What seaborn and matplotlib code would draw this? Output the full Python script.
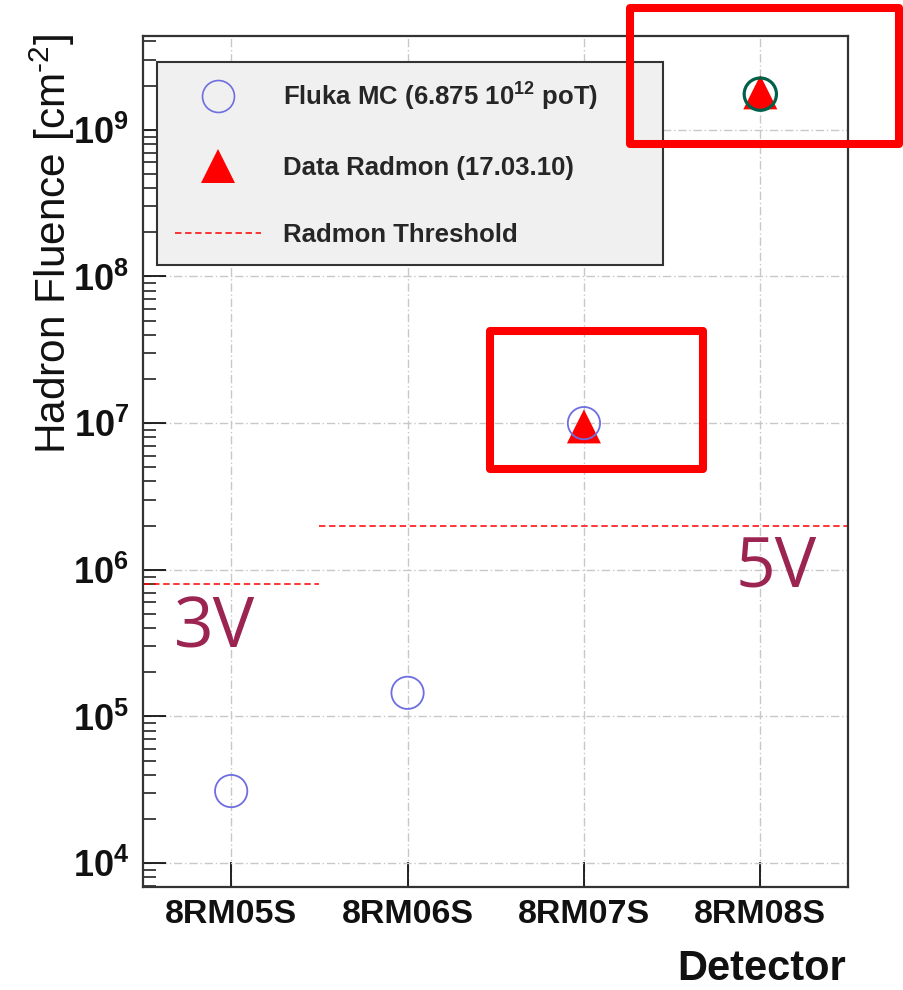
import numpy as np
import pandas as pd
import matplotlib
matplotlib.use('Agg')
import matplotlib.pyplot as plt
import seaborn as sns
from matplotlib.lines import Line2D
from matplotlib.patches import Rectangle
from matplotlib.ticker import LogLocator, FixedLocator, NullFormatter

# ---------------- data ----------------
detectors = ['8RM05S', '8RM06S', '8RM07S', '8RM08S']
fluka_mc = [3.1e4, 1.45e5, 1.0e7, 1.75e9]
radmon_data = [np.nan, np.nan, 9.5e6, 1.8e9]
threshold = [8e5, 2e6, 2e6, 2e6]
threshold_labels = ['3V', '5V']
y_decades = [4, 5, 6, 7, 8, 9]
legend_labels = ['Fluka MC (6.875 10$^{12}$ poT)', 'Data Radmon (17.03.10)', 'Radmon Threshold']

# ---------------- style ----------------
sns.set_theme(style='white')
plt.rcParams['font.family'] = ['Liberation Sans', 'DejaVu Sans']
plt.rcParams['mathtext.fontset'] = 'custom'
plt.rcParams['mathtext.rm'] = 'Liberation Sans:bold'
plt.rcParams['mathtext.it'] = 'Liberation Sans:bold:italic'
plt.rcParams['mathtext.bf'] = 'Liberation Sans:bold'
plt.rcParams['mathtext.sf'] = 'Liberation Sans'

BLUE = '#6e6ee0'
GREEN = '#00604a'
RED = '#ff0000'
TXT = '#9b2451'
DASH = (0, (4.2, 2.4))

W, H = 904, 990
fig = plt.figure(figsize=(W / 100, H / 100), dpi=100)
ax = fig.add_axes([143 / W, 1 - 886.5 / H, (848.5 - 143) / W, (886.5 - 36) / H])
ax.set_yscale('log')

df = pd.DataFrame({'pos': np.arange(len(detectors)), 'detector': detectors,
                   'fluka': fluka_mc, 'radmon': radmon_data, 'threshold': threshold})

# grid
ax.set_axisbelow(True)
ax.grid(True, which='major', axis='both', color='#c8c8c8',
        linestyle=(0, (6, 2, 1, 2)), linewidth=1.0)

# threshold lines (grouped consecutive detectors with the same threshold)
groups = []
start = 0
for i in range(1, len(threshold) + 1):
    if i == len(threshold) or threshold[i] != threshold[start]:
        groups.append((start, i - 1, threshold[start]))
        start = i
for (a, b, thr) in groups:
    ax.hlines(thr, a - 0.5, b + 0.5, colors=RED, linestyles=[DASH], linewidth=1.1, zorder=2)

# Radmon data triangles
tri = df.dropna(subset=['radmon'])
sns.scatterplot(data=tri, x='pos', y='radmon', marker='^', s=600, color=RED,
                edgecolor='none', linewidth=0, ax=ax, legend=False, zorder=3)

# Fluka MC circles
blue_part = df.iloc[:3]
green_part = df.iloc[3:]
sns.scatterplot(data=blue_part, x='pos', y='fluka', marker='o', s=540, color=BLUE,
                facecolors='none', edgecolor=BLUE, linewidth=1.3, ax=ax, legend=False, zorder=4)
sns.scatterplot(data=green_part, x='pos', y='fluka', marker='o', s=540, color=GREEN,
                facecolors='none', edgecolor=GREEN, linewidth=2.3, ax=ax, legend=False, zorder=4)
for coll in ax.collections[-2:]:
    coll.set_facecolor('none')

# threshold annotations
ax.annotate(threshold_labels[0], xy=(-0.325, threshold[0]), xytext=(0, -32.5),
            textcoords='offset points', ha='left', va='center', fontsize=50,
            color=TXT, family=['Open Sans', 'DejaVu Sans'])
ax.annotate(threshold_labels[1], xy=(2.857, threshold[1]), xytext=(0, -31),
            textcoords='offset points', ha='left', va='center', fontsize=50,
            color=TXT, family=['Open Sans', 'DejaVu Sans'])

# axes
ax.set_xlim(-0.5, 3.5)
ax.set_ylim(6.93e3, 4.36e9)

ax.tick_params(axis='y', which='major', direction='in', length=16.5, width=1.3,
               left=True, right=False, pad=10, colors='#111', labelsize=26)
ax.tick_params(axis='y', which='minor', direction='in', length=9.5, width=1.1,
               left=True, right=False, colors='#111')
ax.tick_params(axis='x', which='major', direction='in', length=18, width=1.3,
               bottom=True, top=False, pad=9, colors='#111', labelsize=24.5)
ax.tick_params(axis='x', which='minor', bottom=False, top=False)

ax.set_xticks(df['pos'])
ax.set_xticklabels(detectors, fontweight='bold', fontsize=24.5)
ax.yaxis.set_major_locator(FixedLocator([10.0 ** d for d in y_decades]))
ax.set_yticklabels([r'$\mathrm{10^{%d}}$' % d for d in y_decades], fontsize=26)
ax.yaxis.set_minor_locator(LogLocator(base=10, subs=np.arange(2, 10), numticks=30))
ax.yaxis.set_minor_formatter(NullFormatter())

for sp in ax.spines.values():
    sp.set_visible(True)
    sp.set_color('#333333')
    sp.set_linewidth(1.6)

ax.set_ylabel('Hadron Fluence [cm$^{\\mathsf{\u2010 2}}$]', fontsize=30.5, loc='top', color='#111')
ax.yaxis.set_label_coords(-0.093, 1.003)
ax.set_xlabel('Detector', fontsize=30, fontweight='bold', loc='right', color='#111')
ax.xaxis.set_label_coords(0.996, -0.074)

# legend
handles = [
    Line2D([], [], marker='o', linestyle='none', markersize=23, markerfacecolor='none',
           markeredgecolor=BLUE, markeredgewidth=1.2),
    Line2D([], [], marker='^', linestyle='none', markersize=24, color=RED, markeredgewidth=0),
    Line2D([], [], color=RED, linestyle=DASH, linewidth=1.1),
]
leg = ax.legend(handles, legend_labels, loc='upper left',
                bbox_to_anchor=(0.0198, 0.969, 0.717, 0.0), mode='expand', borderaxespad=0,
                prop={'weight': 'bold', 'size': 18.5}, handlelength=3.35, handletextpad=0.85,
                borderpad=0.7, labelspacing=1.68, frameon=True, fancybox=False,
                edgecolor='#333333', facecolor='#f0f0f0', framealpha=1)
leg.get_frame().set_linewidth(1.5)

# red highlight boxes
for (x0, y0, x1, y1) in [(630, 8, 899, 144), (490, 331, 703, 469)]:
    fig.add_artist(Rectangle((x0 / W, 1 - y1 / H), (x1 - x0) / W, (y1 - y0) / H,
                             transform=fig.transFigure, fill=False, edgecolor=RED,
                             linewidth=5.8, joinstyle='round', zorder=10))

fig.savefig('out.png', dpi=100)
